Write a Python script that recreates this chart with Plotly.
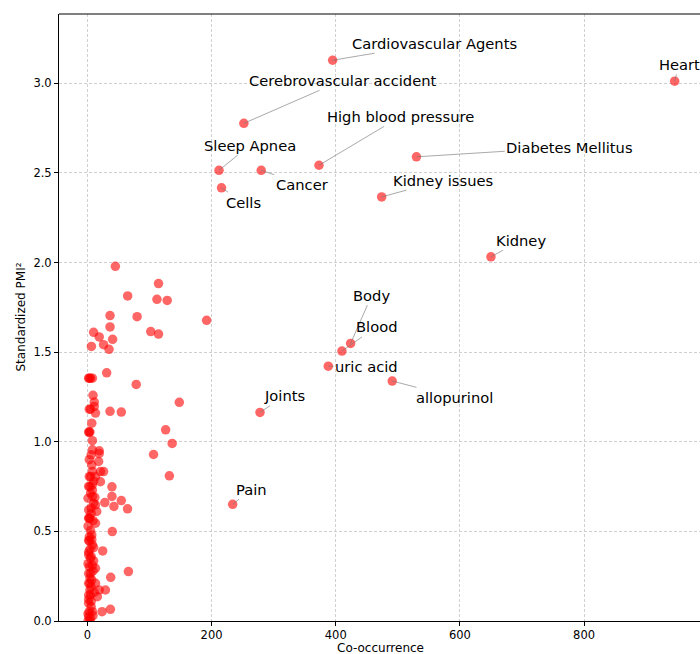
import plotly.graph_objects as go

# Labeled terms: (co-occurrence, standardized PMI^2)
labeled_names = ["Cardiovascular Agents", "Heart", "Cerebrovascular accident",
                 "High blood pressure", "Sleep Apnea", "Diabetes Mellitus", "Cancer",
                 "Kidney issues", "Cells", "Kidney", "Body", "Blood", "uric acid",
                 "allopurinol", "Joints", "Pain"]
labeled_x = [395, 946, 252, 373, 212, 530, 280, 474, 216, 650, 424, 410, 388, 491, 278, 234]
labeled_y = [3.129, 3.012, 2.777, 2.543, 2.515, 2.590, 2.515, 2.366, 2.417, 2.032,
             1.549, 1.506, 1.422, 1.339, 1.164, 0.651]

# Unlabeled terms
other_x = [45, 114.5, 64.8, 112, 128.5, 36.4, 80, 192, 36.4, 10, 102, 114.5, 19, 40.6, 26,
           6.4, 34.8, 31, 78.6, 148, 36.4, 54.6, 126, 136.5, 106.5, 132, 39.5, 39.5, 54.6,
           28, 42.7, 64.6, 40, 24.6, 66, 37.5, 29, 37, 23.6,
           2, 3, 5, 8, 9, 11, 11, 3, 5, 13, 7, 2, 3, 4, 8, 8, 19, 19, 6, 18, 7, 8, 21, 26,
           3, 5, 13, 10, 21, 2, 4, 8, 5, 8, 10, 13, 15, 6, 2, 3, 4, 13, 5, 7, 2, 3, 8, 4,
           2, 5, 10, 3, 8, 13, 2, 5, 2, 4, 13, 6, 4, 19, 2, 5, 16, 2, 6, 3, 8, 2, 5, 1, 4,
           1, 2, 1, 3, 2, 1, 4, 2, 1, 3,
           6, 9, 7, 10, 6, 9, 7, 11, 6, 9, 8, 12]
other_y = [1.979, 1.883, 1.814, 1.795, 1.789, 1.704, 1.698, 1.678, 1.641, 1.611, 1.615,
           1.601, 1.585, 1.572, 1.542, 1.532, 1.516, 1.385, 1.320, 1.220, 1.170, 1.166,
           1.067, 0.991, 0.929, 0.810, 0.749, 0.695, 0.672, 0.661, 0.639, 0.626, 0.499,
           0.391, 0.276, 0.244, 0.173, 0.065, 0.052,
           1.355, 1.355, 1.355, 1.355, 1.259, 1.222, 1.197, 1.182, 1.182, 1.160, 1.104,
           1.054, 1.054, 1.054, 1.006, 0.955, 0.950, 0.935, 0.927, 0.890, 0.870, 0.834,
           0.834, 0.834, 0.806, 0.806, 0.806, 0.780, 0.777, 0.751, 0.751, 0.730, 0.714,
           0.695, 0.657, 0.648, 0.611, 0.630, 0.574, 0.574, 0.574, 0.546, 0.505, 0.480,
           0.449, 0.449, 0.425, 0.400, 0.369, 0.350, 0.335, 0.303, 0.310, 0.294, 0.265,
           0.265, 0.210, 0.210, 0.210, 0.190, 0.173, 0.173, 0.145, 0.145, 0.136, 0.099,
           0.080, 0.052, 0.052, 0.024, 0.015, 0.0, 0.0,
           0.685, 0.620, 0.530, 0.470, 0.385, 0.320, 0.240, 0.120, 0.040, 0.900,
           0.600, 0.560, 0.455, 0.410, 0.360, 0.280, 0.230, 0.160, 0.110, 0.030, 0.760, 0.690]

x_ticks = [0, 200, 400, 600, 800]
y_ticks = [0.0, 0.5, 1.0, 1.5, 2.0, 2.5, 3.0]
y_tick_text = ["0.0", "0.5", "1.0", "1.5", "2.0", "2.5", "3.0"]

# Label placement (layout, in data coordinates)
label_pos = [(559, 3.224), (953, 3.106), (411, 3.017), (505, 2.816), (262, 2.655),
             (777, 2.644), (346, 2.437), (572, 2.460), (251, 2.337), (699, 2.125),
             (458, 1.818), (465, 1.641), (450, 1.422), (592, 1.248), (318, 1.257),
             (264, 0.735)]

FONT = "DejaVu Sans"
all_x = labeled_x + other_x
all_y = labeled_y + other_y

fig = go.Figure()
fig.add_trace(go.Scatter(
    x=all_x, y=all_y, mode="markers",
    marker=dict(size=9.5, color="rgba(255,0,0,0.6)", line=dict(width=0)),
    hoverinfo="skip", showlegend=False))

annotations = []
for name, px, py, (tx, ty) in zip(labeled_names, labeled_x, labeled_y, label_pos):
    annotations.append(dict(
        x=px, y=py, xref="x", yref="y", ax=tx, ay=ty, axref="x", ayref="y",
        text=name, showarrow=True, arrowhead=0, arrowwidth=0.8,
        arrowcolor="rgba(120,120,120,0.8)", standoff=0, startstandoff=0,
        font=dict(family=FONT, size=14.7, color="black"),
        xanchor="center", yanchor="middle"))

annotations.append(dict(text="Co-occurrence", xref="paper", yref="paper", x=(381 - 59) / 641,
                        y=(621 - 648) / 607, showarrow=False, xanchor="center",
                        yanchor="middle", borderpad=0,
                        font=dict(family=FONT, size=12, color="black")))
annotations.append(dict(text="Standardized PMI²", xref="paper", yref="paper",
                        x=(20 - 59) / 641, y=0.5, showarrow=False, textangle=-90,
                        xanchor="center", yanchor="middle",
                        font=dict(family=FONT, size=12, color="black")))

fig.update_layout(
    width=700, height=654,
    margin=dict(l=59, r=0, t=14, b=33, pad=0),
    plot_bgcolor="white", paper_bgcolor="white",
    font=dict(family=FONT, size=11.5, color="black"),
    annotations=annotations,
    shapes=[dict(type="line", xref="paper", yref="paper", x0=0, x1=1, y0=1, y1=1,
                 line=dict(color="black", width=1))],
    xaxis=dict(range=[-45.8, 986.8], tickvals=x_ticks, ticks="outside", ticklen=3.5,
               tickcolor="black", showline=True, linecolor="black", linewidth=1,
               showgrid=True, gridcolor="#d0d0d0", griddash="3px,2px", gridwidth=1,
               zeroline=False, automargin=False),
    yaxis=dict(range=[0, 3.387], tickvals=y_ticks, ticktext=y_tick_text, ticks="outside",
               ticklen=4, tickcolor="black", showline=True, linecolor="black", linewidth=1,
               showgrid=True, gridcolor="#d0d0d0", griddash="3px,2px", gridwidth=1,
               zeroline=False, automargin=False),
)

fig.write_html("out.html", config={"displayModeBar": False},
               post_script="document.body.style.margin='0';document.body.style.overflow='hidden';")
